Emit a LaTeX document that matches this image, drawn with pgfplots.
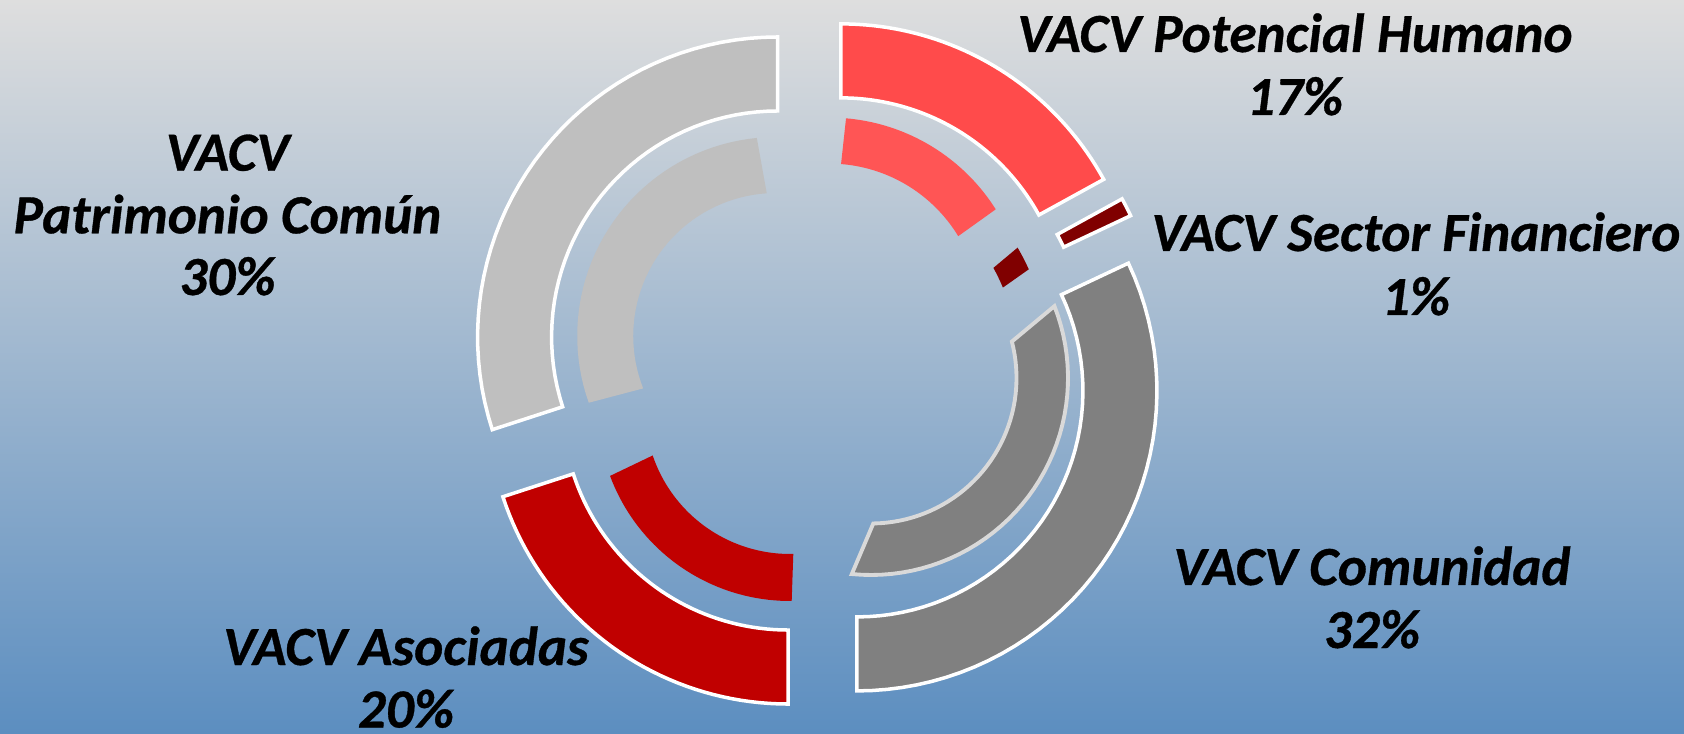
\documentclass[border=0pt]{standalone}
\usepackage{pgfplots}
\pgfplotsset{compat=1.18}
\usepackage{fontspec}
\setmainfont{Carlito}[BoldItalicFeatures={FakeBold=0.6}]
\definecolor{cPH}{RGB}{255,75,75}
\definecolor{cPHi}{RGB}{255,85,85}
\definecolor{cSF}{RGB}{128,0,0}
\definecolor{cCO}{RGB}{128,128,128}
\definecolor{cAS}{RGB}{192,0,0}
\definecolor{cPA}{RGB}{191,191,191}
\definecolor{cEdge}{RGB}{217,217,217}
\definecolor{bgTop}{RGB}{222,222,222}
\definecolor{bgMid}{RGB}{172,189,206}
\definecolor{bgBot}{RGB}{92,142,192}
% annular piece: centre x, centre y, inner r, outer r, outer-arc angles a1 a2, inner-arc angles b1 b2 (clockwise from top), style
\newcommand{\seg}[9]{%
 \addplot[#9, variable=\t, samples at={0,1,...,40,60,61,...,100}]
 ({(#1)+((#4)+((#3)-(#4))*(\t>50))*sin((1-(\t>50))*((#5)+((#6)-(#5))*\t/40)+(\t>50)*((#8)+((#7)-(#8))*(\t-60)/40))},
  {(#2)+((#4)+((#3)-(#4))*(\t>50))*cos((1-(\t>50))*((#5)+((#6)-(#5))*\t/40)+(\t>50)*((#8)+((#7)-(#8))*(\t-60)/40))}) -- cycle;
}
% outer ring from cumulative percentages, exploded along the bisector
\newcommand{\outerseg}[3]{\seg{816.4+48*sin(1.8*(#1+#2))}{367.8+48*cos(1.8*(#1+#2))}{226}{300}{3.6*#1}{3.6*#2}{3.6*#1}{3.6*#2}{#3}}
\newcommand{\lab}{\fontsize{15.7}{18}\selectfont\bfseries\itshape}
\begin{document}
\begin{tikzpicture}
\begin{axis}[scale only axis, width=16.84cm, height=7.33cm,
  xmin=0, xmax=1684, ymin=0, ymax=733,
  axis line style={draw=none}, xtick=\empty, ytick=\empty, clip=false,
  axis background/.style={top color=bgTop, middle color=bgMid, bottom color=bgBot}]
% outer ring: 17, 1, 32, 20, 30 %
\outerseg{0}{17}{fill=cPH, draw=white, line width=1pt}
\outerseg{17}{18}{fill=cSF, draw=white, line width=1pt}
\outerseg{18}{50}{fill=cCO, draw=white, line width=1pt}
\outerseg{50}{70}{fill=cAS, draw=white, line width=1pt}
\outerseg{70}{100}{fill=cPA, draw=white, line width=1pt}
% inner ring
\seg{829.2}{418.4}{151}{197}{4.9}{57.7}{4.5}{58.7}{fill=cPHi, draw=none}
\seg{816.4}{367.8}{202}{233}{59.7}{65.7}{61.2}{67.4}{fill=cSF, draw=none}
\seg{871}{355}{145.5}{197}{68.6}{185.6}{75.5}{179.1}{fill=cCO, draw=cEdge, line width=1.1pt}
\seg{790}{324}{145}{192}{179.5}{249.6}{178.7}{251.3}{fill=cAS, draw=none}
\seg{776.2}{397}{143}{199}{250.4}{354.4}{248.5}{356.2}{fill=cPA, draw=none}
% labels
\node[anchor=base, font=\lab] at (axis cs:1295,681) {VACV Potencial Humano};
\node[anchor=base, font=\lab] at (axis cs:1295,618) {17\%};
\node[anchor=base, font=\lab] at (axis cs:1416,482) {VACV Sector Financiero};
\node[anchor=base, font=\lab] at (axis cs:1416,418) {1\%};
\node[anchor=base, font=\lab] at (axis cs:1372,148) {VACV Comunidad};
\node[anchor=base, font=\lab] at (axis cs:1372,85) {32\%};
\node[anchor=base, font=\lab] at (axis cs:406,68) {VACV Asociadas};
\node[anchor=base, font=\lab] at (axis cs:406,5.5) {20\%};
\node[anchor=base, font=\lab] at (axis cs:227.5,562.3) {VACV};
\node[anchor=base, font=\lab] at (axis cs:227.5,499.7) {Patrimonio Común};
\node[anchor=base, font=\lab] at (axis cs:227.5,438) {30\%};
\end{axis}
\pgfresetboundingbox
\path (current axis.south west) rectangle (current axis.north east);
\end{tikzpicture}
\end{document}
